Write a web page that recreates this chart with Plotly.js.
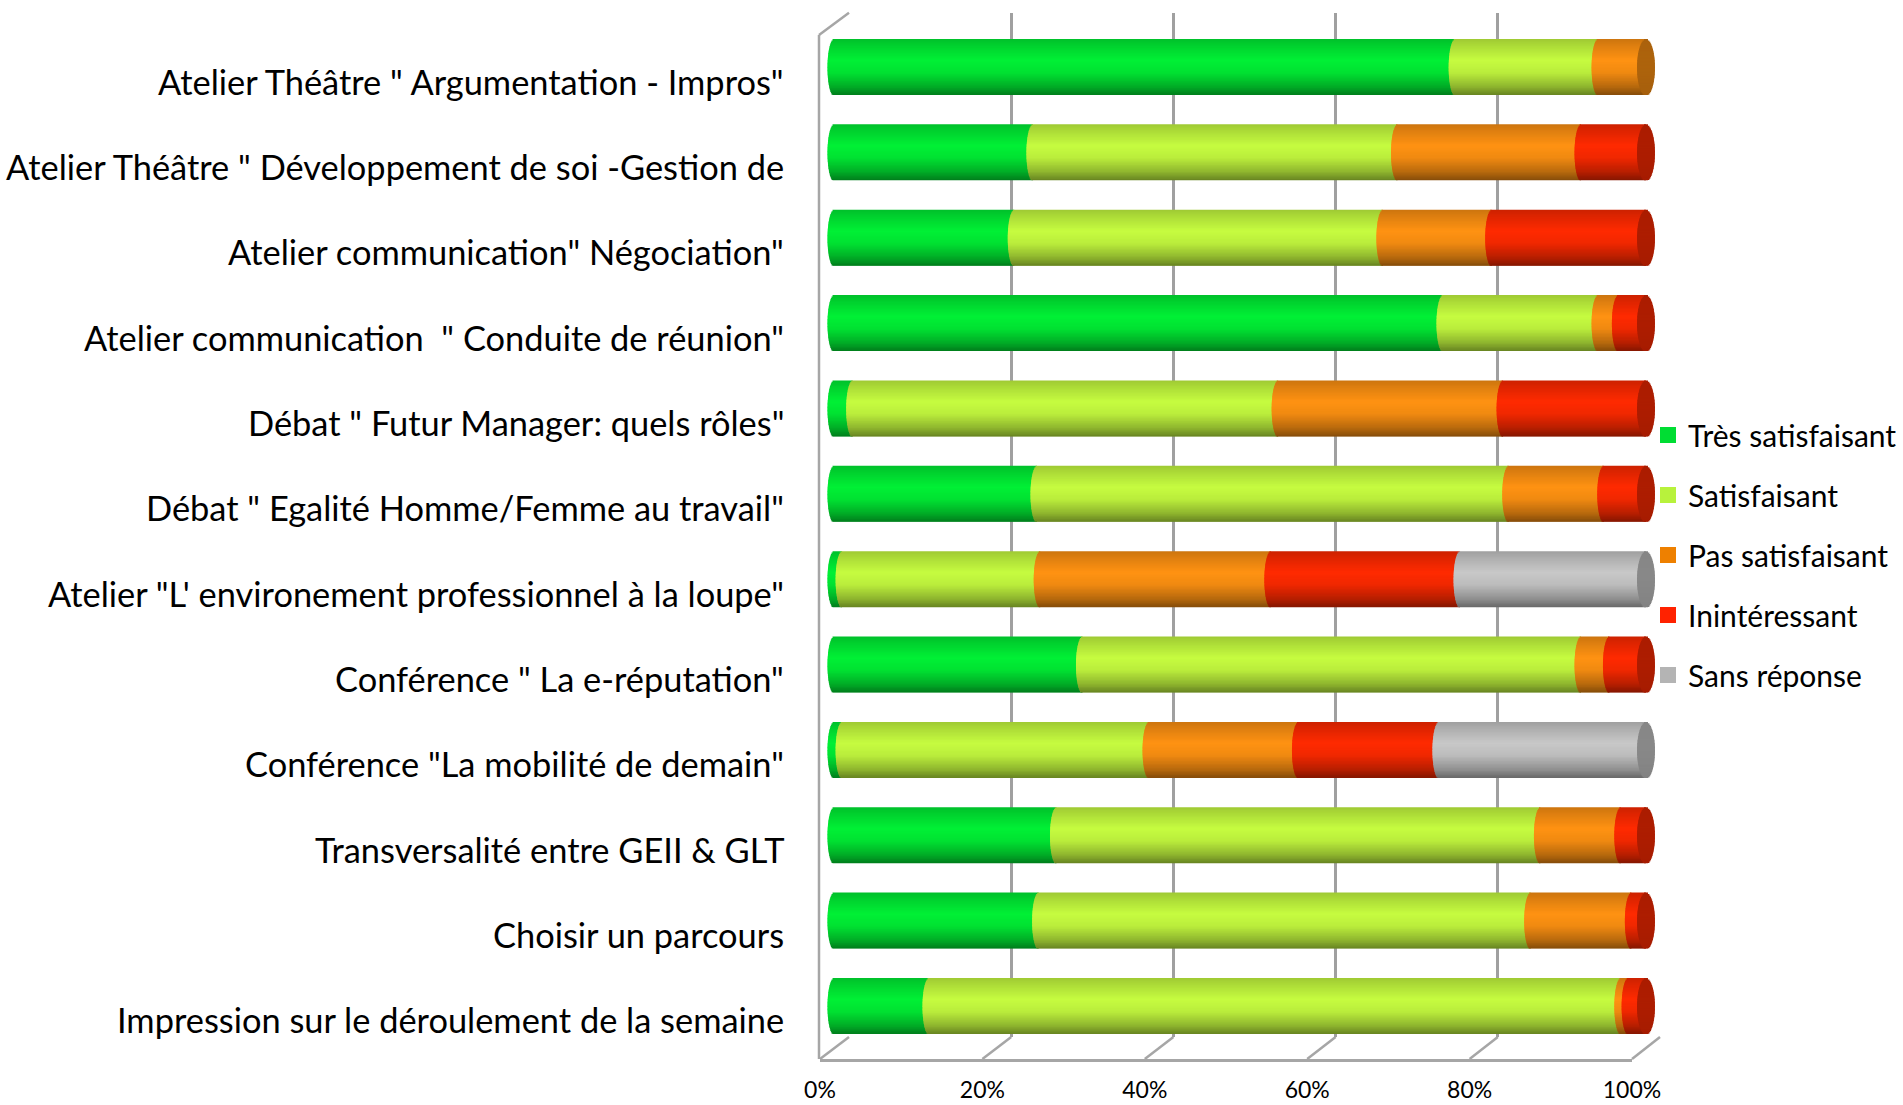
<!DOCTYPE html>
<html>
<head>
<meta charset="utf-8">
<script src="https://cdn.plot.ly/plotly-3.0.1.min.js"></script>
<style>html,body{margin:0;padding:0;background:#fff;}#chart{width:1903px;height:1105px;}</style>
</head>
<body>
<div id="chart"></div>
<script>
// ---- data (percent of answers) ----
const categories = [
  'Atelier Théâtre " Argumentation - Impros"',
  'Atelier Théâtre " Développement de soi -Gestion de',
  'Atelier communication" Négociation"',
  'Atelier communication  " Conduite de réunion"',
  'Débat " Futur Manager: quels rôles"',
  'Débat " Egalité Homme/Femme au travail"',
  'Atelier "L\' environement professionnel à la loupe"',
  'Conférence " La e-réputation"',
  'Conférence "La mobilité de demain"',
  'Transversalité entre GEII & GLT',
  'Choisir un parcours',
  'Impression sur le déroulement de la semaine'
];
const seriesNames = ['Très satisfaisant', 'Satisfaisant', 'Pas satisfaisant', 'Inintéressant', 'Sans réponse'];
const tresSatisfaisant = [76.5, 24.5, 22.2, 75.0, 2.3, 25.0, 1.0, 30.6, 1.0, 27.4, 25.2, 11.7];
const satisfaisant     = [17.6, 44.9, 45.4, 19.1, 52.4, 58.1, 24.4, 61.4, 37.8, 59.6, 60.6, 85.2];
const pasSatisfaisant  = [5.9, 22.6, 13.4, 2.5, 27.7, 11.7, 28.4, 3.5, 18.4, 9.9, 12.4, 0.9];
const interessant      = [0, 8.0, 19.0, 3.4, 17.6, 5.2, 23.3, 4.5, 17.3, 3.1, 1.8, 2.2];
const sansReponse      = [0, 0, 0, 0, 0, 0, 22.9, 0, 25.5, 0, 0, 0];
const tickValues = [0, 20, 40, 60, 80, 100];
const tickLabels = ['0%', '20%', '40%', '60%', '80%', '100%'];

// ---- styling ----
const series = [tresSatisfaisant, satisfaisant, pasSatisfaisant, interessant, sansReponse];
const hiColors = ['#00f035', '#c6fc40', '#ff9212', '#ff2a00', '#c8c8c8'];
const legendColors = ['#00dd33', '#b8f23c', '#ee8000', '#ff2200', '#b4b4b4'];
const FONT = 'Lato, "Open Sans", sans-serif';
const W = 1903, Hh = 1105;
const P = px => px / W, Q = py => 1 - py / Hh;

function hexToRgb(h){return [parseInt(h.slice(1,3),16),parseInt(h.slice(3,5),16),parseInt(h.slice(5,7),16)];}
function shade(h,f){const c=hexToRgb(h).map(v=>Math.max(0,Math.min(255,Math.round(v*f))));return 'rgb('+c.join(',')+')';}
const stops=[[0,0.80],[0.12,0.87],[0.38,1.0],[0.6,0.94],[0.85,0.72],[1,0.52]];
function profile(t){for(let i=1;i<stops.length;i++){if(t<=stops[i][0]){const a=stops[i-1],b=stops[i];return a[1]+(b[1]-a[1])*(t-a[0])/(b[0]-a[0]);}}return stops[stops.length-1][1];}

const N = 40, BH = 0.656, BULGE = 0.8, CAP = 1.1;
const rows = categories.map((c,i)=>i);
const cum = [];
let run = rows.map(()=>0);
series.forEach(s=>{cum.push(run.slice()); run = run.map((v,i)=>v+s[i]);});
const totals = run;

const traces = [];
// back wall grid subplot (xy) dummy
traces.push({type:'scatter',x:[0,100],y:[0,1],mode:'markers',marker:{opacity:0},hoverinfo:'skip',showlegend:false,xaxis:'x',yaxis:'y'});
// legend entries (x2y2)
seriesNames.forEach((n,s)=>{
  traces.push({type:'scatter',x:[null],y:[null],mode:'markers',name:n,legendgroup:'g'+s,
    marker:{symbol:'square',size:18,color:legendColors[s]},xaxis:'x2',yaxis:'y2',hoverinfo:'skip'});
});
// cylinder bars drawn as thin horizontal strips (x3y3)
series.forEach((vals,s)=>{
  for(let k=0;k<N;k++){
    const tc=(k+0.5)/N, u=2*tc-1, b=BULGE*Math.sqrt(1-u*u);
    traces.push({type:'bar',orientation:'h',xaxis:'x3',yaxis:'y3',
      y:rows, x:vals.map(v=>v>0?v+b:0), base:cum[s].map(c=>c-b),
      offset:-BH/2+k*BH/N, width:(k<N-1?BH/N*1.8:BH/N),
      marker:{color:shade(hiColors[s],profile(tc)),line:{width:0}},
      hoverinfo:'skip',showlegend:false});
  }
});
// dark end caps
const capColors = rows.map(i=>{let last=0;series.forEach((v,s)=>{if(v[i]>0)last=s;});return last;});
for(let k=0;k<N;k++){
  const tc=(k+0.5)/N, u=2*tc-1, b=CAP*Math.sqrt(1-u*u);
  const f=0.68*(0.9+0.1*profile(tc));
  traces.push({type:'bar',orientation:'h',xaxis:'x3',yaxis:'y3',
    y:rows, x:rows.map(()=>2*b), base:totals.map(t=>t-b),
    offset:-BH/2+k*BH/N, width:(k<N-1?BH/N*1.8:BH/N),
    marker:{color:capColors.map(s=>shade(hiColors[s],f)),line:{width:0}},
    hoverinfo:'skip',showlegend:false});
}

// category labels
const annotations = categories.map((c,i)=>({xref:'paper',yref:'y3',x:P(786),y:i,xanchor:'right',yanchor:'middle',
  yshift:-14,text:c,showarrow:false,font:{family:FONT,size:34.4,color:'#000'}}));

// 3D frame lines
const G='#a6a6a6';
function ln(x0,y0,x1,y1){return {type:'line',xref:'paper',yref:'paper',x0:P(x0),y0:Q(y0),x1:P(x1),y1:Q(y1),line:{color:G,width:2.5},layer:'below'};}
const shapes=[ln(819,35,819,1059), ln(819,35,849,12.7), ln(1660,1037,1632,1059)];
tickValues.forEach((t,k)=>{ if(k<5) shapes.push(ln(820+162.4*k,1059,849+162.2*k,1037)); });

const layout={
  width:W,height:Hh,autosize:false,margin:{l:0,r:0,t:0,b:0},
  paper_bgcolor:'#fff',plot_bgcolor:'rgba(0,0,0,0)',
  barmode:'overlay',hovermode:false,showlegend:true,
  font:{family:FONT,color:'#000'},
  xaxis:{domain:[P(849),P(1660)],range:[-0.05,100.05],tickvals:tickValues,showgrid:true,gridcolor:'#a0a0a0',gridwidth:2.5,
    showticklabels:false,zeroline:false,showline:false,ticks:'',fixedrange:true,anchor:'y'},
  yaxis:{domain:[Q(1037),Q(12.7)],range:[0,1],showgrid:false,showticklabels:false,zeroline:false,showline:false,ticks:'',fixedrange:true,anchor:'x'},
  xaxis2:{domain:[P(820),P(1632)],range:[0,100],tickvals:tickValues,ticktext:tickLabels,showgrid:false,zeroline:false,
    showline:true,linecolor:G,linewidth:2.5,ticks:'',ticklabelstandoff:9,tickfont:{family:FONT,size:23,color:'#000'},anchor:'y2',side:'bottom',fixedrange:true},
  yaxis2:{domain:[Q(1059),Q(1040)],range:[0,1],showgrid:false,showticklabels:false,zeroline:false,showline:false,ticks:'',anchor:'x2',fixedrange:true},
  xaxis3:{domain:[P(809.64),P(1670.36)],range:[-3,103],showgrid:false,showticklabels:false,zeroline:false,showline:false,ticks:'',anchor:'y3',fixedrange:true},
  yaxis3:{domain:[0,1],range:[12.160,-0.785],showgrid:false,showticklabels:false,zeroline:false,showline:false,ticks:'',anchor:'x3',fixedrange:true},
  legend:{x:P(1648),y:Q(409),xanchor:'left',yanchor:'top',traceorder:'grouped',tracegroupgap:18,
    font:{family:FONT,size:30,color:'#000'},bgcolor:'rgba(0,0,0,0)',borderwidth:0,itemwidth:30},
  annotations:annotations,shapes:shapes
};
Plotly.newPlot('chart',traces,layout,{staticPlot:true,displayModeBar:false});
</script>
</body>
</html>
